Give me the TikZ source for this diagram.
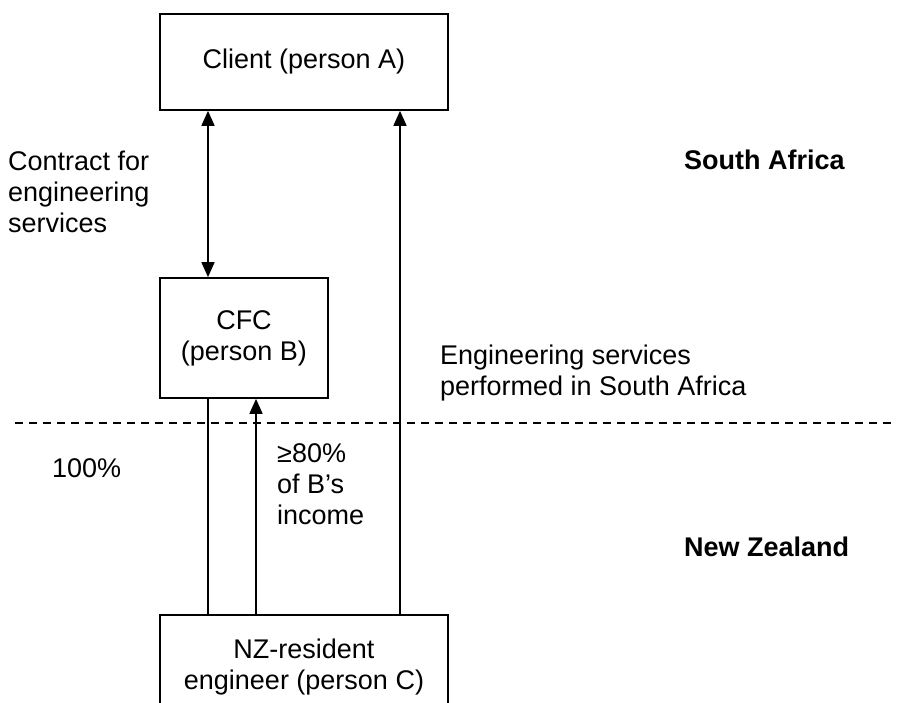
\documentclass[tikz,border=0pt]{standalone}
\usepackage{fontspec}
\setmainfont{Liberation Sans}
\usetikzlibrary{arrows.meta}
\begin{document}
\begin{tikzpicture}[x=1pt,y=-1pt,
  every node/.style={font=\fontsize{27pt}{31pt}\selectfont, inner sep=0pt},
  boxnode/.style={draw, line width=1.7pt, inner sep=0pt},
  conn/.style={line width=1.6pt},
  tip/.style={-{Triangle[length=15pt,width=13pt]}},
  dtip/.style={{Triangle[length=15pt,width=13pt]}-{Triangle[length=15pt,width=13pt]}},
  lbl/.style={anchor=west, align=left}]
\useasboundingbox (0,0) rectangle (897,703);
\clip (0,0) rectangle (897,703);
% boxes
\node[boxnode, minimum width=288pt, minimum height=96pt] (A) at (304,62) {Client (person A)};
\node[boxnode, minimum width=168pt, minimum height=120pt, align=center] (B) at (244,338) {CFC\\(person B)};
\node[boxnode, minimum width=288pt, minimum height=140pt, anchor=north] (C) at (304,614) {};
\node[align=center] (Ct) at (304,667) {NZ-resident\\engineer (person C)};
% connectors
\draw[conn, dtip] (A.south -| 208,0) -- (B.north -| 208,0);
\draw[conn, tip] (C.north -| 400,0) -- (A.south -| 400,0);
\draw[conn] (B.south -| 208,0) -- (C.north -| 208,0);
\draw[conn, tip] (C.north -| 256,0) -- (B.south -| 256,0);
% border
\coordinate (dl) at (15,423);
\coordinate (dr) at (897,423);
\draw[line width=1.6pt, dash pattern=on 8pt off 6pt] (dl) -- (dr);
% labels
\node[lbl] (contract) at (8,192) {Contract for\\engineering\\services};
\node[lbl] (sa) at (684,160) {\bfseries South Africa};
\node[lbl] (eng) at (440,373) {Engineering services\\performed in South Africa};
\node[lbl] (hund) at (52,468) {100\%};
\node[lbl] (eighty) at (277,484) {≥80\%\\of B’s\\income};
\node[lbl] (nz) at (684,547) {\bfseries New Zealand};
\end{tikzpicture}
\end{document}
